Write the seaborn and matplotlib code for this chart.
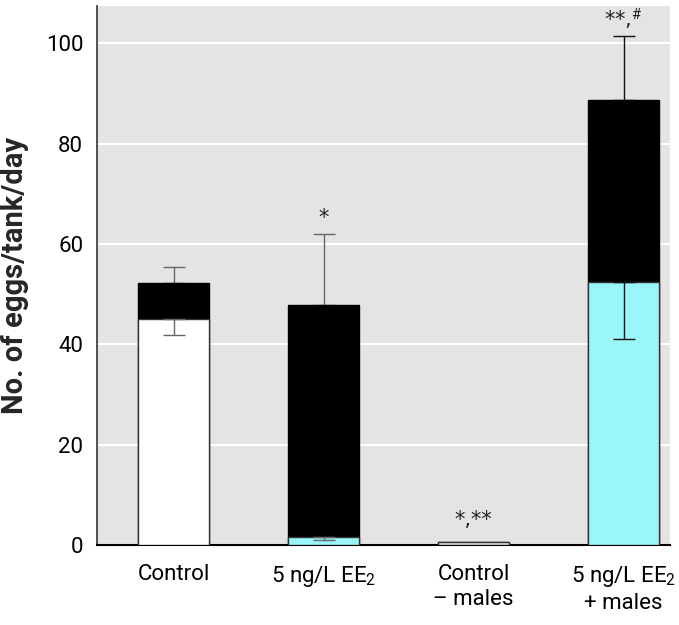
import matplotlib
matplotlib.use("Agg")
import matplotlib.pyplot as plt
import seaborn as sns
import pandas as pd
import numpy as np

categories = ["Control", "5 ng/L EE$_2$", "Control\n\u2013 males", "5 ng/L EE$_2$\n+ males"]
totals = [52.3, 47.9, 0.6, 88.8]
bottoms = [45.0, 1.5, 0.6, 52.5]
upper_err_top = [55.4, 62.0, np.nan, 101.4]
lower_err_bottom = [41.8, 0.9, np.nan, 41.0]
annotations = ["", "*", "*,**", "**,$^{\\#}$"]
annot_y = [np.nan, 63.2, 3.0, 102.2]

bottom_colors = ["#ffffff", "#99f7f9", "#e0e0e0", "#99f7f9"]

sns.set_theme(style="white")
plt.rcParams['font.family'] = ['Roboto', 'DejaVu Sans']
plt.rcParams['mathtext.fontset'] = 'custom'
plt.rcParams['mathtext.rm'] = 'Roboto'
plt.rcParams['mathtext.it'] = 'Roboto'
plt.rcParams['mathtext.bf'] = 'Roboto:bold'

fig = plt.figure(figsize=(6.79, 6.25), dpi=100)
ax = fig.add_axes([0.143, 0.128, 0.844, 0.862])
ax.set_facecolor("#e4e4e4")

df = pd.DataFrame({"cat": categories, "total": totals, "bottom": bottoms})

sns.barplot(data=df, x="cat", y="total", color="black", width=0.47,
            edgecolor="black", linewidth=1, saturation=1, ax=ax, zorder=2)
sns.barplot(data=df, x="cat", y="bottom", hue="cat", palette=bottom_colors,
            width=0.47, edgecolor="#333333", linewidth=1, saturation=1,
            legend=False, ax=ax, zorder=3)

xpos = np.arange(len(categories))
err_colors = ["#666666", "#666666", "#666666", "#111111"]
for i in range(len(categories)):
    if not np.isnan(upper_err_top[i]):
        ax.errorbar(xpos[i], totals[i], yerr=[[0], [upper_err_top[i] - totals[i]]],
                    fmt="none", ecolor=err_colors[i], elinewidth=1, capsize=8,
                    capthick=1, zorder=1)
    if not np.isnan(lower_err_bottom[i]):
        ax.errorbar(xpos[i], bottoms[i], yerr=[[bottoms[i] - lower_err_bottom[i]], [0]],
                    fmt="none", ecolor=err_colors[i], elinewidth=1, capsize=8,
                    capthick=1, zorder=4)
    if annotations[i]:
        ax.text(xpos[i], annot_y[i], annotations[i], ha="center", va="bottom",
                fontsize=15, color="#222222", family=["DejaVu Sans"])

ax.set_ylim(0, 107.4)
ax.set_xlim(-0.51, 3.31)
ax.set_yticks([0, 20, 40, 60, 80, 100])
ax.yaxis.grid(True, color="white", linewidth=1.5)
ax.set_axisbelow(True)
ax.tick_params(axis="both", length=0, labelsize=16, colors="black")
ax.tick_params(axis="y", pad=10)
ax.tick_params(axis="x", pad=14)
ax.set_xlabel("")
ax.set_ylabel("No. of eggs/tank/day", fontsize=21, fontweight="bold", labelpad=12)
for s in ["top", "right"]:
    ax.spines[s].set_visible(False)
ax.spines["left"].set_color("#333333")
ax.spines["left"].set_linewidth(1.2)
ax.spines["bottom"].set_color("black")
ax.spines["bottom"].set_linewidth(1.5)

fig.savefig("out.png", dpi=100)
